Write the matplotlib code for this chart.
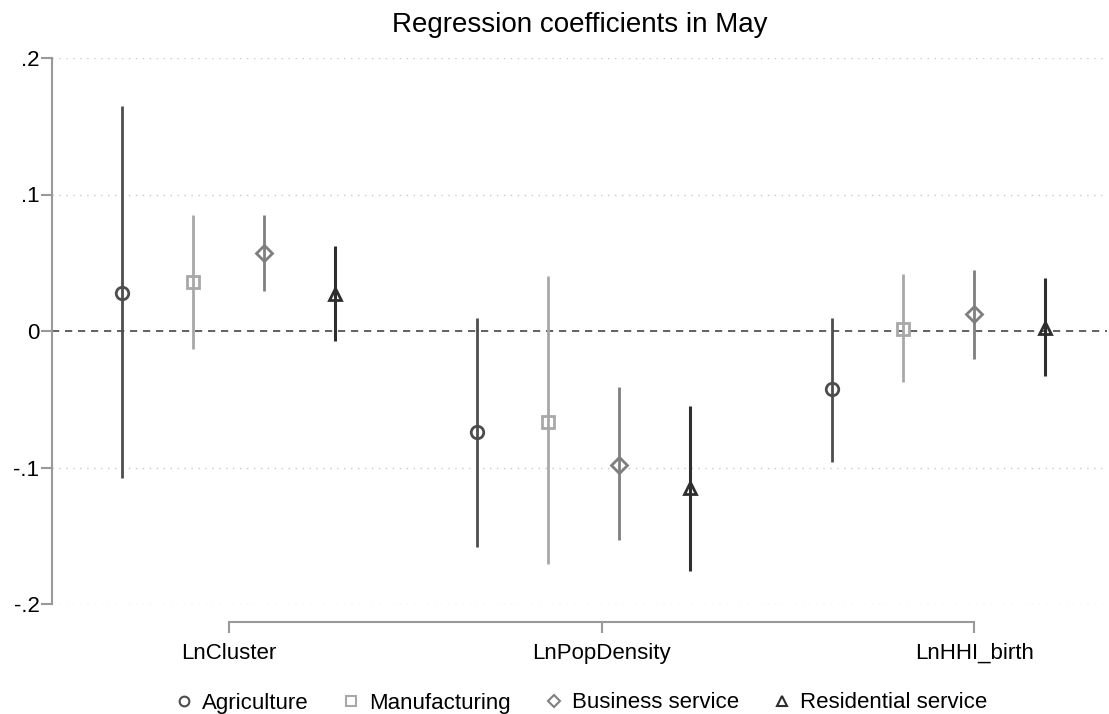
import matplotlib.pyplot as plt
from matplotlib.lines import Line2D

plt.rcParams['font.family'] = ['Liberation Sans', 'DejaVu Sans']

# coefficient estimates and 95% CI bounds, one list per sector
groups = ['LnCluster', 'LnPopDensity', 'LnHHI_birth']
sectors = ['Agriculture', 'Manufacturing', 'Business service', 'Residential service']

est = {
    'Agriculture':         [0.028, -0.074, -0.0425],
    'Manufacturing':       [0.036, -0.067, 0.0015],
    'Business service':    [0.057, -0.098, 0.0125],
    'Residential service': [0.027, -0.115, 0.002],
}
lo = {
    'Agriculture':         [-0.108, -0.158, -0.096],
    'Manufacturing':       [-0.013, -0.171, -0.037],
    'Business service':    [0.029, -0.153, -0.0205],
    'Residential service': [-0.007, -0.176, -0.033],
}
hi = {
    'Agriculture':         [0.165, 0.0095, 0.0095],
    'Manufacturing':       [0.085, 0.040, 0.042],
    'Business service':    [0.085, -0.041, 0.045],
    'Residential service': [0.062, -0.055, 0.039],
}

markers = ['o', 's', 'D', '^']
colors = ['#4d4d4d', '#a8a8a8', '#7f7f7f', '#2e2e2e']
lwidths = [2.0, 2.0, 2.0, 2.2]

fig = plt.figure(figsize=(11.09, 7.14), dpi=100)
ax = fig.add_axes([52 / 1109, 1 - 604 / 714, 1055 / 1109, 546 / 714])

# gridlines and zero reference
for yv in [-0.2, -0.1, 0.1, 0.2]:
    ax.axhline(yv, color='#c8c8c8', lw=1.0, ls=(0, (1, 4)), zorder=0)
ax.axhline(0, color='#555555', lw=1.3, ls=(0, (4, 3.2)), zorder=1)

for i, s in enumerate(sectors):
    for g in range(len(groups)):
        x = g * 5 + i
        ax.plot([x, x], [lo[s][g], hi[s][g]], color=colors[i], lw=lwidths[i], zorder=2,
                solid_capstyle='butt')
        ax.plot(x, est[s][g], marker=markers[i], ms=9 if markers[i] != 'D' else 8.5,
                mfc='none', mec=colors[i], mew=2.0, zorder=3)

# group axis drawn as a bracket below the plot
ax.spines['bottom'].set_position(('outward', 13))
ax.spines['bottom'].set_bounds(1.5, 12)

ax.set_ylim(-0.2, 0.2)
ax.set_xlim(-0.99, 13.87)
ax.set_yticks([-0.2, -0.1, 0, 0.1, 0.2])
ax.set_yticklabels(['-.2', '-.1', '0', '.1', '.2'], fontsize=16)
ax.set_xticks([1.5, 6.75, 12])
ax.set_xticklabels(groups, fontsize=16)

for side in ['top', 'right']:
    ax.spines[side].set_visible(False)
for side in ['bottom', 'left']:
    ax.spines[side].set_color('#999999')
    ax.spines[side].set_linewidth(1.5)
ax.tick_params(axis='x', length=8, width=1.5, color='#999999', pad=7)
ax.tick_params(axis='y', length=8, width=1.5, color='#999999', pad=1)

ax.set_title('Regression coefficients in May', fontsize=20, pad=19)

handles = [Line2D([], [], ls='none', marker=markers[i], ms=7 if markers[i] != 'D' else 6.5,
                  mfc='none', mec=colors[i], mew=1.5) for i in range(4)]
fig.legend(handles, sectors, loc='center', bbox_to_anchor=(0.523, 1 - 703 / 714),
           ncol=4, frameon=False, fontsize=16, handletextpad=0.3, columnspacing=1.45,
           handlelength=1.0)

fig.savefig('out.png', dpi=100)
